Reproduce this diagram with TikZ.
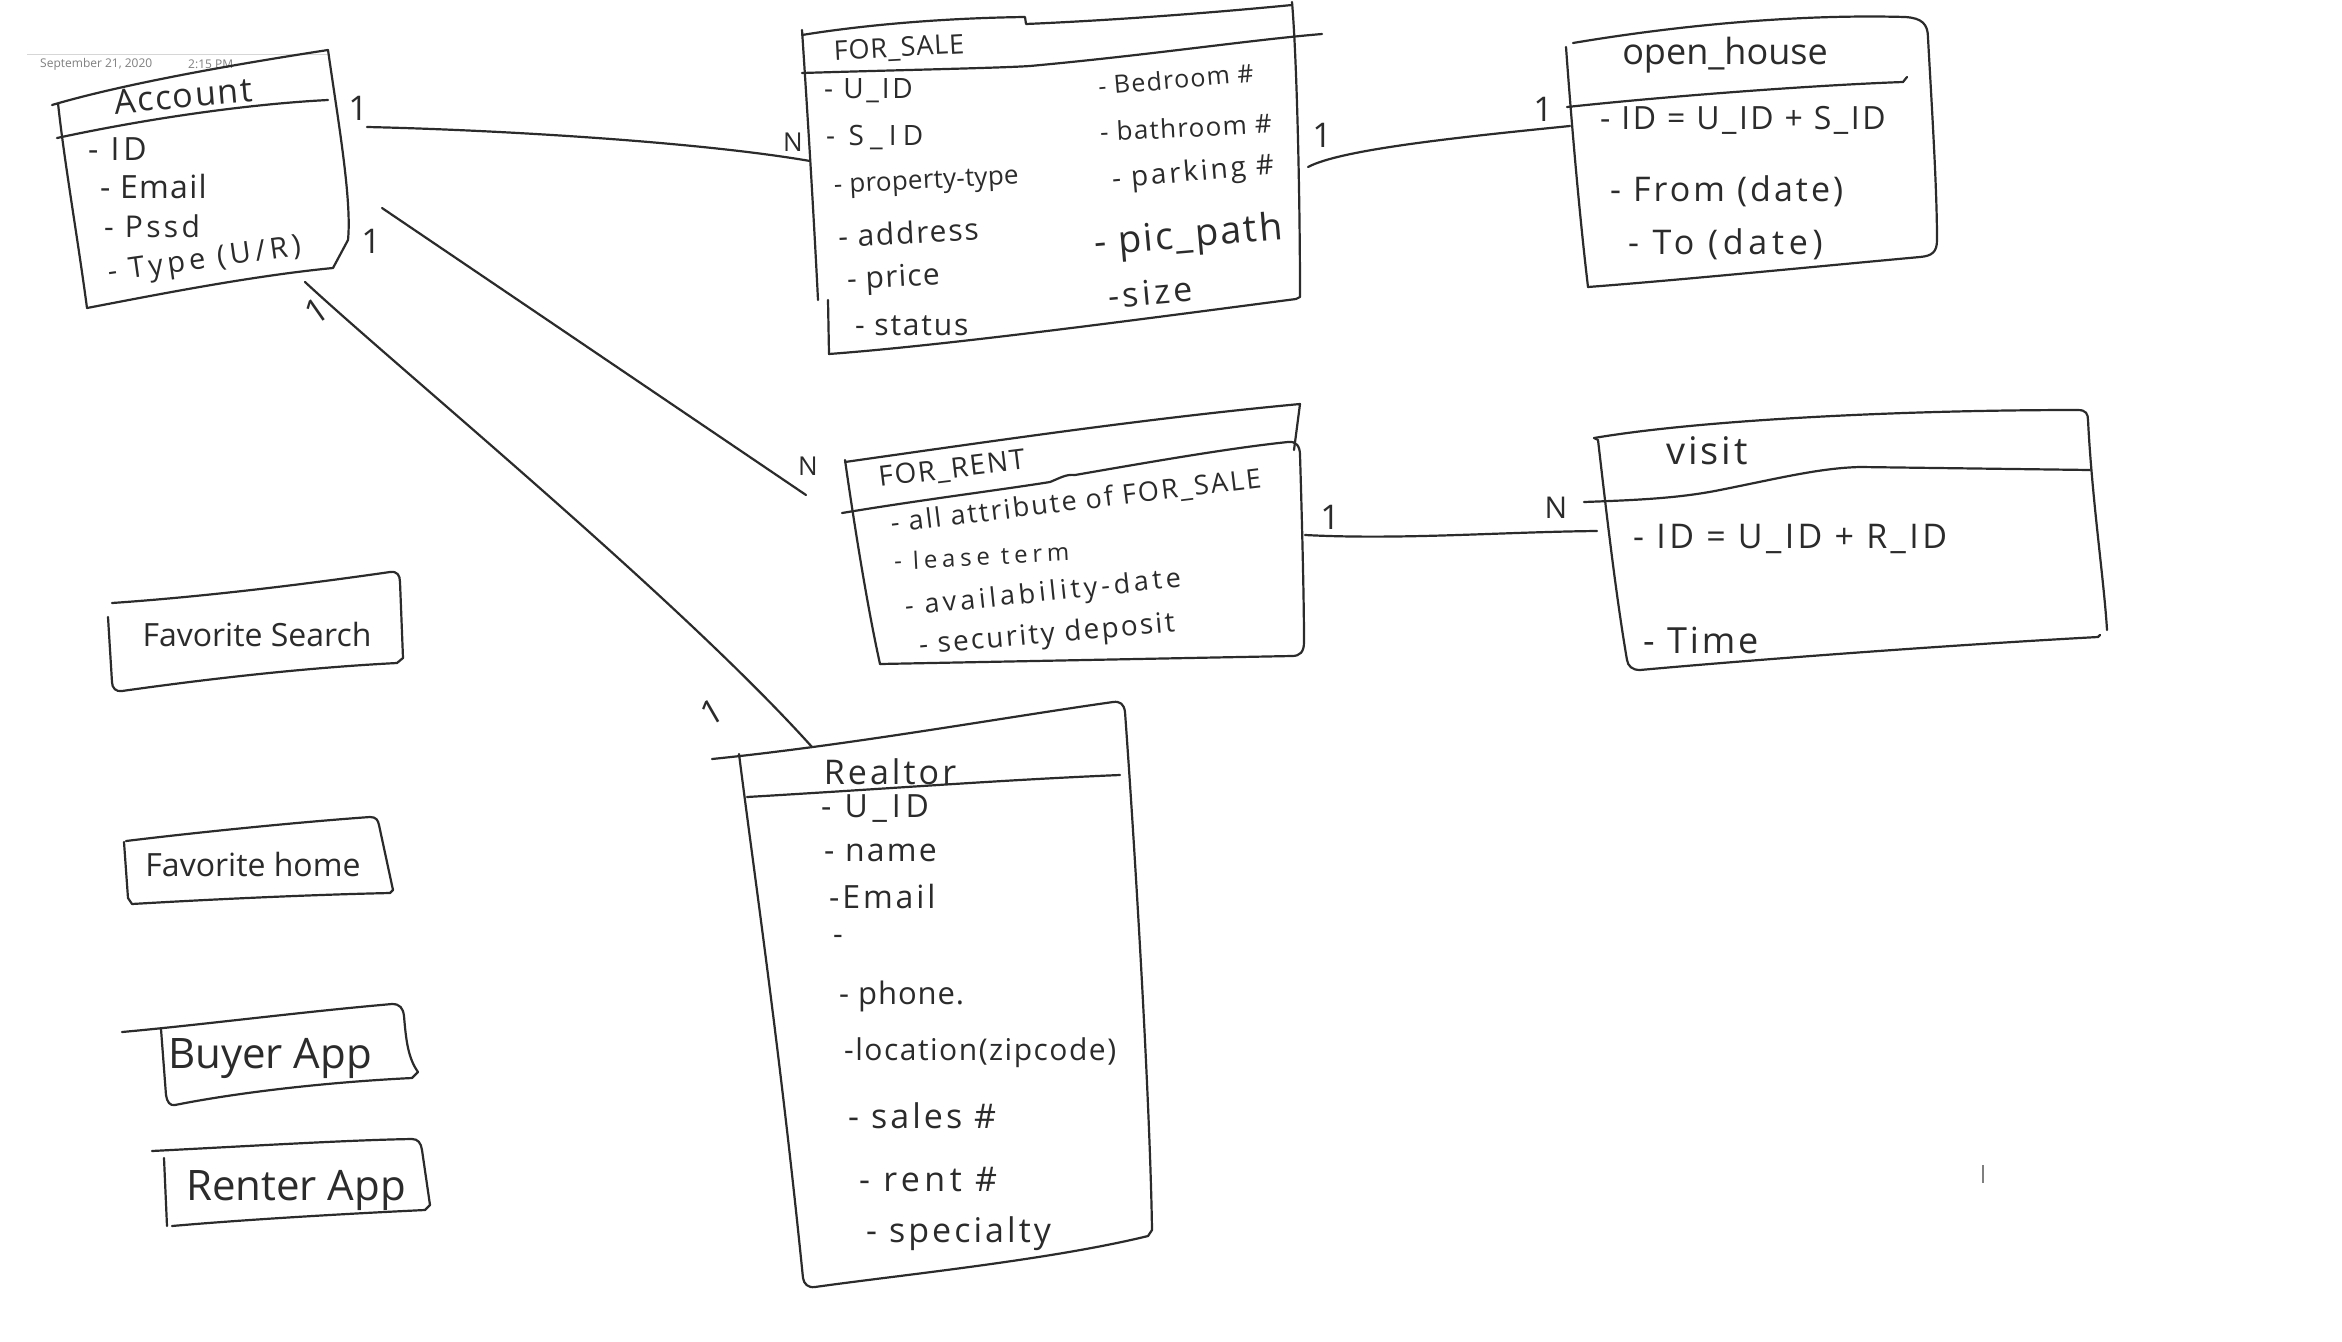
\documentclass[tikz,border=0pt]{standalone}
\usepackage{fontspec}
\setmainfont{Open Sans}
\definecolor{ink}{HTML}{2B2B2B}
\definecolor{stampgray}{HTML}{7F7F7F}
\definecolor{faintgray}{HTML}{D6D6D6}
\begin{document}
\begin{tikzpicture}[x=1pt,y=-1pt,
  hand/.style={draw=ink, line width=2.2pt, line cap=round, line join=round},
  fs/.style={font=\fontsize{#1}{#1}\selectfont},
  hw/.style 2 args={font=\fontsize{#1}{#1}\selectfont\addfontfeature{LetterSpace=#2}},
  txt/.style={inner sep=0pt, text=ink},
  attr/.style={txt, anchor=west},
  card/.style={txt, fs=34},
]
\fill[white] (0,0) rectangle (2342,1341);
\useasboundingbox (0,0) rectangle (2342,1341);

% page stamp
\draw[faintgray, line width=1pt] (27,54) -- (330,54);
\node[txt, text=stampgray, fs=12, anchor=west] (date) at (40,64) {September 21, 2020};
\node[txt, text=stampgray, fs=12, anchor=west] (time) at (188,64) {2:15 PM};

% ---------------- Account ----------------
\draw[hand] (52,105) .. controls (130,82) and (250,62) .. (328,50)
  .. controls (338,120) and (352,200) .. (348,240) -- (333,268)
  .. controls (250,276) and (150,296) .. (87,308)
  .. controls (78,240) and (64,160) .. (58,103);
\draw[hand] (57,138) .. controls (150,118) and (250,104) .. (328,100);
\node[txt, hw={34}{5}, rotate=5] (acct) at (183,96) {Account};
\node[attr, hw={32}{12}] (acct-id) at (88,149) {- ID};
\node[attr, hw={32}{4}] (acct-email) at (100,186) {- Email};
\node[attr, hw={30}{11}] (acct-pssd) at (104,226) {- Pssd};
\node[attr, hw={29}{15}, rotate=8] (acct-type) at (108,275) {- Type (U/R)};

% ---------------- FOR_SALE ----------------
\draw[hand] (802,35) .. controls (870,24) and (950,18) .. (1025,17) -- (1026,24)
  .. controls (1120,20) and (1220,12) .. (1292,5);
\draw[hand] (1292,2) .. controls (1297,60) and (1300,200) .. (1300,297) -- (1296,299)
  .. controls (1150,318) and (950,345) .. (829,354) -- (828,300);
\draw[hand] (802,30) .. controls (808,120) and (814,220) .. (818,300);
\draw[hand] (802,73) .. controls (900,70) and (1000,68) .. (1030,66)
  .. controls (1150,55) and (1250,40) .. (1322,34);
\node[txt, hw={27}{3}, rotate=3] (fs-title) at (899,49) {FOR\_SALE};
\node[attr, hw={28}{10}] (fs-uid) at (824,91) {- U\_ID};
\node[attr, hw={28}{22}] (fs-sid) at (826,138) {- S\_ID};
\node[attr, hw={26}{1}, rotate=3] (fs-ptype) at (834,188) {- property-type};
\node[attr, hw={30}{6}, rotate=3] (fs-addr) at (838,236) {- address};
\node[attr, hw={30}{4}, rotate=3] (fs-price) at (847,282) {- price};
\node[attr, hw={30}{6}] (fs-status) at (855,326) {- status};
\node[attr, hw={25}{5}, rotate=5] (fs-bed) at (1098,86) {- Bedroom \#};
\node[attr, hw={26}{5}, rotate=3] (fs-bath) at (1100,132) {- bathroom \#};
\node[attr, hw={28}{10}, rotate=5] (fs-park) at (1112,181) {- parking \#};
\node[attr, hw={38}{6}, rotate=5] (fs-pic) at (1094,246) {- pic\_path};
\node[attr, hw={34}{10}, rotate=5] (fs-size) at (1108,296) {-size};

% ---------------- open_house ----------------
\draw[hand] (1573,43) .. controls (1680,25) and (1800,14) .. (1905,17)
  .. controls (1922,18) and (1928,24) .. (1928,38)
  .. controls (1932,110) and (1937,190) .. (1937,240)
  .. controls (1937,252) and (1932,256) .. (1920,257)
  .. controls (1800,268) and (1680,280) .. (1588,287);
\draw[hand] (1566,47) .. controls (1572,130) and (1580,220) .. (1588,287);
\draw[hand] (1567,107) .. controls (1680,95) and (1820,85) .. (1903,82) -- (1907,77);
\node[txt, fs=36] (oh-title) at (1725,55) {open\_house};
\node[attr, hw={32}{8}] (oh-id) at (1600,120) {- ID = U\_ID + S\_ID};
\node[attr, hw={34}{9}] (oh-from) at (1610,191) {- From (date)};
\node[attr, hw={34}{14}] (oh-to) at (1628,244) {- To (date)};

% ---------------- FOR_RENT ----------------
\draw[hand] (845,462) .. controls (1000,440) and (1150,418) .. (1300,404) -- (1294,450);
\draw[hand] (842,513) .. controls (920,500) and (1000,490) .. (1050,482)
  .. controls (1060,478) and (1066,474) .. (1075,475)
  .. controls (1150,462) and (1230,448) .. (1288,442)
  .. controls (1296,441) and (1300,446) .. (1300,455)
  .. controls (1302,520) and (1304,600) .. (1304,642)
  .. controls (1304,652) and (1300,656) .. (1292,656) -- (880,664);
\draw[hand] (845,460) .. controls (855,530) and (868,610) .. (880,664);
\node[txt, hw={28}{6}, rotate=7] (fr-title) at (952,470) {FOR\_RENT};
\node[txt, hw={27}{8}, rotate=7] (fr-all) at (1076,502) {- all attribute of FOR\_SALE};
\node[attr, hw={24}{20}, rotate=3] (fr-lease) at (894,561) {- lease term};
\node[attr, hw={27}{14}, rotate=6] (fr-avail) at (905,609) {- availability-date};
\node[attr, hw={28}{8}, rotate=5] (fr-dep) at (919,647) {- security deposit};

% ---------------- visit ----------------
\draw[hand] (1594,438) .. controls (1700,420) and (1900,410) .. (2078,410)
  .. controls (2086,410) and (2088,414) .. (2088,420)
  .. controls (2092,500) and (2104,580) .. (2107,630);
\draw[hand] (2100,635) -- (2098,637) .. controls (1950,645) and (1750,660) .. (1640,670)
  .. controls (1632,670) and (1628,666) .. (1627,660)
  .. controls (1615,590) and (1605,500) .. (1598,440) -- (1594,438);
\draw[hand] (1584,502) .. controls (1640,500) and (1680,498) .. (1720,490)
  .. controls (1780,478) and (1820,468) .. (1860,467) -- (2090,470);
\node[txt, hw={38}{8}] (vi-title) at (1707,451) {visit};
\node[attr, hw={34}{10}] (vi-id) at (1633,539) {- ID = U\_ID + R\_ID};
\node[attr, hw={36}{8}] (vi-time) at (1643,640) {- Time};

% ---------------- Realtor ----------------
\draw[hand] (712,759) .. controls (850,745) and (1000,718) .. (1113,702)
  .. controls (1120,701) and (1124,704) .. (1125,712)
  .. controls (1135,850) and (1150,1100) .. (1152,1230) -- (1148,1236)
  .. controls (1050,1260) and (900,1275) .. (815,1287)
  .. controls (808,1288) and (804,1284) .. (803,1278)
  .. controls (780,1050) and (755,880) .. (739,754);
\draw[hand] (747,797) .. controls (900,788) and (1000,780) .. (1120,775);
\node[txt, hw={34}{9}] (re-title) at (890,772) {Realtor};
\node[attr, hw={32}{15}] (re-uid) at (821,809) {- U\_ID};
\node[attr, hw={32}{7}] (re-name) at (824,853) {- name};
\node[attr, hw={32}{9}] (re-email) at (829,896) {-Email};
\node[attr, fs=30] (re-blank) at (833,940) {-};
\node[attr, hw={31}{3}] (re-phone) at (839,996) {- phone.};
\node[attr, hw={30}{5}] (re-loc) at (844,1053) {-location(zipcode)};
\node[attr, hw={34}{9}] (re-sales) at (848,1116) {- sales \#};
\node[attr, hw={34}{13}] (re-rent) at (859,1180) {- rent \#};
\node[attr, hw={34}{9}] (re-spec) at (866,1234) {- specialty};

% ---------------- stand-alone entities ----------------
\draw[hand] (112,603) .. controls (200,597) and (300,585) .. (390,572)
  .. controls (397,571) and (400,575) .. (400,582) -- (403,658) -- (397,663)
  .. controls (300,668) and (200,680) .. (122,691)
  .. controls (116,692) and (112,688) .. (112,682) -- (108,617);
\node[txt, fs=32] (fav-search) at (257,634) {Favorite Search};

\draw[hand] (126,841) .. controls (200,832) and (300,822) .. (370,817)
  .. controls (376,817) and (378,820) .. (379,825) -- (393,890) -- (390,893)
  .. controls (300,895) and (200,900) .. (132,904) -- (128,898) -- (124,842);
\node[txt, fs=32] (fav-home) at (253,864) {Favorite home};

\draw[hand] (122,1032) .. controls (200,1025) and (300,1012) .. (392,1004)
  .. controls (400,1004) and (403,1008) .. (404,1016)
  .. controls (406,1040) and (408,1058) .. (418,1072) -- (412,1078)
  .. controls (330,1082) and (240,1092) .. (175,1105)
  .. controls (170,1106) and (167,1102) .. (166,1095) -- (161,1029);
\node[txt, fs=42] (buyer) at (270,1058) {Buyer App};

\draw[hand] (152,1151) .. controls (250,1146) and (350,1140) .. (412,1139)
  .. controls (418,1139) and (421,1143) .. (422,1150) -- (430,1205) -- (425,1210)
  .. controls (340,1214) and (240,1220) .. (172,1226);
\draw[hand] (164,1158) -- (167,1226);
\node[txt, fs=42] (renter) at (296,1190) {Renter App};

% ---------------- relationship endpoints ----------------
\coordinate (acc-e1) at (367,127);
\coordinate (fs-w)   at (810,161);
\coordinate (acc-e2) at (382,208);
\coordinate (fr-w)   at (806,495);
\coordinate (acc-s)  at (305,282);
\coordinate (re-n)   at (812,747);
\coordinate (fs-e)   at (1308,167);
\coordinate (oh-w)   at (1570,126);
\coordinate (fr-e)   at (1305,535);
\coordinate (vi-w)   at (1597,531);

% ---------------- relationships ----------------
\draw[hand] (acc-e1) .. controls (500,130) and (700,142) .. (fs-w);
\draw[hand] (acc-e2) -- (fr-w);
\draw[hand] (acc-s) .. controls (400,370) and (680,600) .. (re-n);
\draw[hand] (fs-e) .. controls (1340,150) and (1450,138) .. (oh-w);
\draw[hand] (fr-e) .. controls (1400,540) and (1500,532) .. (vi-w);

% cardinalities
\node[card] (c-acc-fs) at (358,108) {1};
\node[card, fs=26] (c-fs-acc) at (793,142) {N};
\node[card] (c-acc-fr) at (371,241) {1};
\node[card, fs=26] (c-fr-acc) at (808,466) {N};
\node[card, rotate=35] (c-acc-re) at (316,311) {1};
\node[card, rotate=30] (c-re-acc) at (712,712) {1};
\node[card] (c-fs-oh) at (1322,135) {1};
\node[card] (c-oh-fs) at (1543,109) {1};
\node[card] (c-fr-vi) at (1330,517) {1};
\node[card, fs=30] (c-vi-fr) at (1556,508) {N};

% stray pen tick
\draw[stampgray, line width=1.2pt] (1983,1165) -- (1983,1183);
\end{tikzpicture}
\end{document}
